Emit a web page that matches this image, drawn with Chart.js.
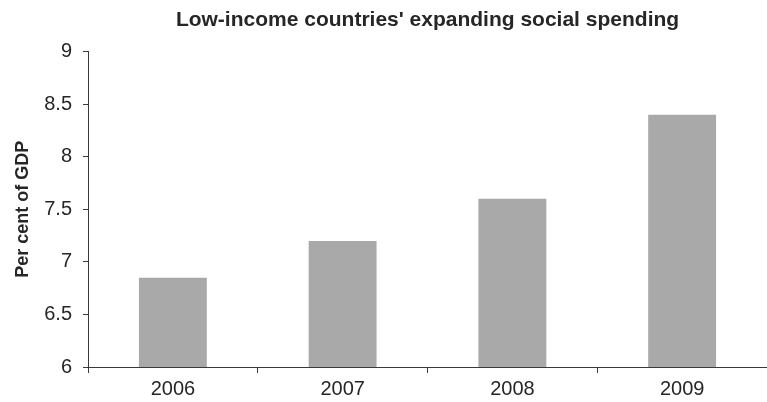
<!DOCTYPE html>
<html lang="en">
<head>
  <meta charset="UTF-8" />
  <title>Low-income countries' expanding social spending</title>
  <script src="https://cdn.jsdelivr.net/npm/chart.js"></script>
  <style>
    body {
      margin: 0;
      background: #ffffff;
    }
    canvas {
      display: block;
    }
  </style>
</head>
<body>
  <canvas id="spendChart" width="767" height="402"></canvas>

  <script>
    // Social spending, per cent of GDP
    const years = ['2006', '2007', '2008', '2009'];
    const spending = [6.85, 7.2, 7.6, 8.4];

    const titleText = "Low-income countries' expanding social spending";
    const yAxisText = 'Per cent of GDP';

    const axisColor = '#3a3a3a';
    const textColor = '#262626';
    const fontFamily = '"Liberation Sans", Arial, Helvetica, sans-serif';

    const ctx = document.getElementById('spendChart').getContext('2d');
    new Chart(ctx, {
      type: 'bar',
      data: {
        labels: years,
        datasets: [{
          data: spending,
          backgroundColor: '#a9a9a9',
          borderWidth: 0,
          barPercentage: 0.4,
          categoryPercentage: 1.0
        }]
      },
      options: {
        responsive: false,
        animation: false,
        devicePixelRatio: 1,
        layout: { padding: 0 },
        plugins: {
          legend: { display: false },
          tooltip: { enabled: false },
          title: {
            display: true,
            text: titleText,
            fullSize: false,
            color: textColor,
            font: { family: fontFamily, size: 21, weight: 'bold' },
            padding: { top: 8, bottom: 18.5 }
          }
        },
        scales: {
          x: {
            afterFit: scale => { scale.height = 35; },
            border: { display: true, color: axisColor, width: 1 },
            grid: {
              offset: true,
              drawOnChartArea: false,
              drawTicks: true,
              tickLength: 6,
              tickColor: axisColor
            },
            ticks: {
              color: textColor,
              padding: 4,
              font: { family: fontFamily, size: 20 }
            }
          },
          y: {
            min: 6,
            max: 9,
            afterFit: scale => { scale.width = 88; },
            border: { display: true, color: axisColor, width: 1 },
            grid: {
              drawOnChartArea: false,
              drawTicks: true,
              tickLength: 5,
              tickColor: axisColor
            },
            ticks: {
              stepSize: 0.5,
              color: textColor,
              padding: 11,
              font: { family: fontFamily, size: 20 },
              // whole numbers without the trailing ".0"
              callback: value => String(value)
            },
            title: {
              display: true,
              text: yAxisText,
              color: textColor,
              font: { family: fontFamily, size: 18, weight: 'bold' },
              padding: { top: 12, bottom: 0 }
            }
          }
        }
      }
    });
  </script>
</body>
</html>
